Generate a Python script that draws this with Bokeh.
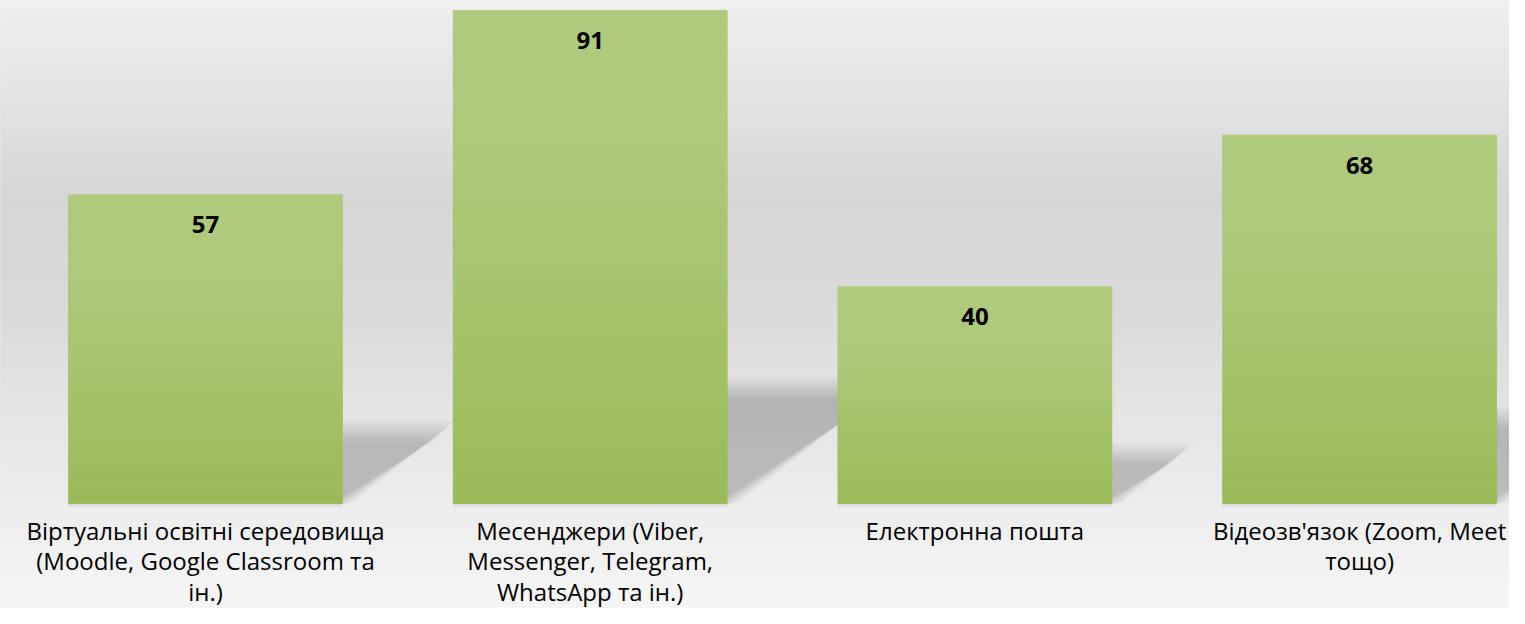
import numpy as np
from bokeh.plotting import figure
from bokeh.models import Range1d
from bokeh.embed import file_html
from bokeh.resources import INLINE
from bokeh.core.properties import value

# ---- data ----
categories = [
    "Віртуальні освітні середовища\n(Moodle, Google Classroom та\nін.)",
    "Месенджери (Viber,\nMessenger, Telegram,\nWhatsApp та ін.)",
    "Електронна пошта",
    "Відеозв'язок (Zoom, Meet\nтощо)",
]
values = [57, 91, 40, 68]

# ---- geometry (picture pixels) ----
W, H = 1509, 608
OFF = 0
X0_PAGE = 205.0      # x of first category centre
X_STEP = 384.7       # pixels between categories
Y0_PAGE = 503.0      # y of value 0
PX_PER_UNIT = 5.418  # pixels per value unit
BAR_W = 274.0 / X_STEP

x_start = (OFF - X0_PAGE) / X_STEP
x_end = (OFF + W - X0_PAGE) / X_STEP
y_end = (Y0_PAGE - OFF) / PX_PER_UNIT
y_start = -(OFF + H - Y0_PAGE) / PX_PER_UNIT


def py_to_y(py):
    return (Y0_PAGE - py) / PX_PER_UNIT


def hexc(r, g, b):
    return "#%02x%02x%02x" % (int(round(r)), int(round(g)), int(round(b)))


p = figure(width=W, height=H, output_backend="svg", toolbar_location=None,
           x_range=Range1d(x_start, x_end), y_range=Range1d(y_start, y_end),
           min_border=0, min_border_left=0, min_border_right=0,
           min_border_top=0, min_border_bottom=0)
p.axis.visible = False
p.grid.visible = False
p.outline_line_color = None
p.background_fill_color = "#e6e6e6"
p.border_fill_color = "#ffffff"

# ---- background vertical gradient ----
stops_py = [0, 200, 300, 400, 500, 624]
stops_g = [239, 214, 217, 227, 236, 247]
n_bg = 150
edges = np.linspace(OFF, OFF + H, n_bg + 1)
bg_bottom, bg_top, bg_col = [], [], []
for i in range(n_bg):
    mid = 0.5 * (edges[i] + edges[i + 1])
    g = np.interp(mid, stops_py, stops_g)
    bg_top.append(py_to_y(edges[i]))
    bg_bottom.append(py_to_y(edges[i + 1]))
    bg_col.append(hexc(g, g, g))
p.quad(left=x_start, right=x_end, bottom=bg_bottom, top=bg_top,
       fill_color=bg_col, line_color=bg_col, line_width=1)

# ---- perspective shadows (soft, layered) ----
xs = np.arange(len(values))
n_layers = 16
blur_px = 11.0
alpha_each = 1 - (1 - 0.19) ** (1.0 / n_layers)
sh_xs, sh_ys = [], []
for k in range(n_layers):
    t = -1 + 2 * k / (n_layers - 1)
    for xc, v in zip(xs, values):
        hpx = v * PX_PER_UNIT
        h_u = (0.235 * hpx + t * blur_px) / PX_PER_UNIT
        dx_u = (0.33 * hpx) / X_STEP
        s_u = (t * blur_px) / X_STEP
        xl = xc - BAR_W / 2
        xr = xc + BAR_W / 2
        sh_xs.append([xl, xl + dx_u, xr + dx_u + s_u, xr + s_u])
        sh_ys.append([0, h_u, h_u, 0])
p.patches(xs=sh_xs, ys=sh_ys, fill_color="black", fill_alpha=alpha_each,
          line_color=None)

# thin shadow under bar bottoms
p.vbar(x=xs, width=BAR_W, bottom=-3 / PX_PER_UNIT, top=0,
       fill_color="black", fill_alpha=0.07, line_color=None)

# ---- bars with vertical gradient ----
top_c = np.array([176, 202, 125])
bot_c = np.array([155, 187, 89])
p.vbar(x=xs, width=BAR_W, bottom=0, top=values, fill_color="#a6c16c",
       line_color=None)
n_seg = 40
bx, bb, bt, bc = [], [], [], []
for xc, v in zip(xs, values):
    for k in range(n_seg):
        f = (k + 0.5) / n_seg
        c = bot_c + (top_c - bot_c) * min(1.0, f * 1.25)
        bx.append(xc)
        bb.append(v * k / n_seg)
        bt.append(v * (k + 1) / n_seg)
        bc.append(hexc(*c))
p.vbar(x=bx, width=BAR_W, bottom=bb, top=bt, fill_color=bc, line_color=bc,
       line_width=0.6)

# ---- value labels ----
p.text(x=xs, y=[v - 30 / PX_PER_UNIT for v in values],
       text=[str(v) for v in values],
       text_font=value("Open Sans"), text_font_style="bold",
       text_font_size="24px", text_color="#000000",
       text_align="center", text_baseline="middle")

# ---- category labels ----
p.text(x=xs, y=[py_to_y(513)] * len(xs), text=categories,
       text_font=value("Open Sans"), text_font_size="24px",
       text_color="#000000", text_align="center", text_baseline="top",
       text_line_height=0.93)

open("out.html", "w").write(file_html(p, INLINE))
